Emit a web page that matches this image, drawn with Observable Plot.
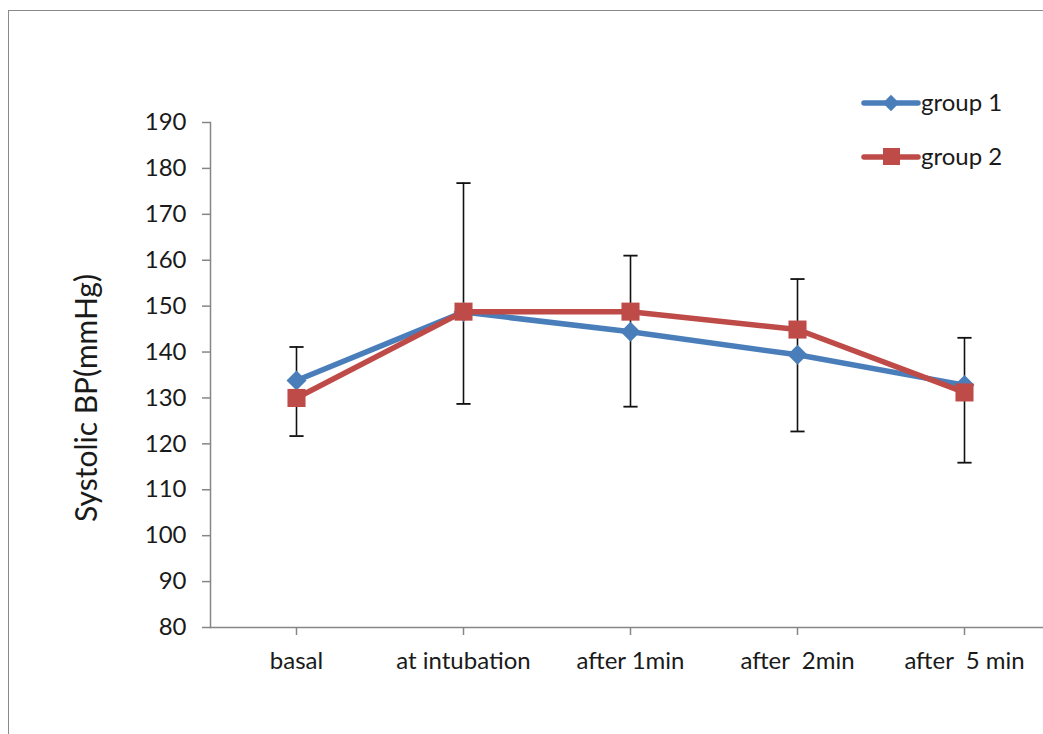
<!DOCTYPE html>
<html>
<head>
<meta charset="utf-8">
<script src="https://cdn.jsdelivr.net/npm/d3@7"></script>
<script src="https://cdn.jsdelivr.net/npm/@observablehq/plot@0.6"></script>
<style>
  html, body { margin: 0; padding: 0; background: #fff; overflow: hidden; }
  #wrap { position: relative; width: 1043px; height: 734px; }
  #border { position: absolute; left: 8px; top: 10px; width: 1100px; height: 800px; border: 1.5px solid #8a8a8a; box-sizing: border-box; pointer-events: none; }
  svg text { white-space: pre; }
</style>
</head>
<body>
<div id="wrap"><div id="border"></div></div>
<script>
const categories = ["basal", "at intubation", "after 1min", "after  2min", "after  5 min"];
const group1 = [133.8, 148.7, 144.4, 139.4, 132.8];
const group2 = [130.0, 148.8, 148.8, 144.9, 131.2];
const errHigh = [141.1, 176.8, 161.0, 155.9, 143.1];
const errLow = [121.7, 128.7, 128.1, 122.7, 115.9];
const yTicks = [80, 90, 100, 110, 120, 130, 140, 150, 160, 170, 180, 190];
const seriesNames = ["group 1", "group 2"];

const rows1 = categories.map((c, i) => ({cat: c, v: group1[i]}));
const rows2 = categories.map((c, i) => ({cat: c, v: group2[i]}));
const errs = categories.map((c, i) => ({cat: c, lo: errLow[i], hi: errHigh[i]}));

const blue = "#4a7ebb";
const red = "#be4b48";
const font = "Lato, 'Open Sans', sans-serif";

const capSymbol = {
  draw(context, size) {
    const w = Math.sqrt(size) / 2;
    context.moveTo(-w, 0);
    context.lineTo(w, 0);
  }
};

const chart = Plot.plot({
  width: 1043,
  height: 734,
  marginLeft: 210,
  marginRight: 0,
  marginTop: 122,
  marginBottom: 107,
  style: {fontFamily: font, fontSize: "24px", color: "#1a1a1a", background: "transparent"},
  x: {type: "point", domain: categories, range: [294.5, 965.2], padding: 0},
  y: {domain: [80, 190]},
  marks: [
    Plot.frame({anchor: "left", stroke: "#868686", strokeWidth: 1.5}),
    Plot.ruleY([80], {stroke: "#868686", strokeWidth: 1.5}),
    Plot.axisY({ticks: yTicks, tickSize: 8, tickPadding: 16, stroke: "#868686", strokeWidth: 1.5, label: null, tickFormat: d => String(d), fill: "#1a1a1a"}),
    Plot.axisX({tickSize: 8, tickPadding: 16, stroke: "#868686", strokeWidth: 1.5, label: null, fill: "#1a1a1a"}),
    Plot.ruleX(errs, {x: "cat", y1: "lo", y2: "hi", stroke: "#111", strokeWidth: 1.6}),
    Plot.dot(errs, {x: "cat", y: "lo", symbol: capSymbol, r: 8, stroke: "#111", strokeWidth: 1.8, fill: "none"}),
    Plot.dot(errs, {x: "cat", y: "hi", symbol: capSymbol, r: 8, stroke: "#111", strokeWidth: 1.8, fill: "none"}),
    Plot.line(rows1, {x: "cat", y: "v", stroke: blue, strokeWidth: 5.5}),
    Plot.dot(rows1, {x: "cat", y: "v", symbol: "diamond2", r: 9, fill: blue, stroke: "none"}),
    Plot.line(rows2, {x: "cat", y: "v", stroke: red, strokeWidth: 5.5}),
    Plot.dot(rows2, {x: "cat", y: "v", symbol: "square2", r: 11.5, fill: red, stroke: "none"}),
    Plot.text(["Systolic BP(mmHg)"], {frameAnchor: "left", textAnchor: "middle", dx: -123, dy: 23, rotate: -90, fontSize: 30, fill: "#1a1a1a"})
  ]
});

// legend
const svg = d3.select(chart);
const leg = svg.append("g").attr("font-family", font).attr("font-size", 24).attr("fill", "#1a1a1a").attr("text-anchor", "start");
const legItems = [
  {name: seriesNames[0], color: blue, y: 103, sym: "diamond"},
  {name: seriesNames[1], color: red, y: 157, sym: "square"}
];
legItems.forEach(it => {
  leg.append("line").attr("x1", 864).attr("x2", 918).attr("y1", it.y).attr("y2", it.y)
    .attr("stroke", it.color).attr("stroke-width", 5.5).attr("stroke-linecap", "round");
  if (it.sym === "diamond") {
    leg.append("path").attr("d", d3.symbol(d3.symbolDiamond2, 170)()).attr("transform", `translate(891,${it.y})`).attr("fill", it.color);
  } else {
    leg.append("rect").attr("x", 883).attr("y", it.y - 9).attr("width", 17).attr("height", 17).attr("fill", it.color);
  }
  leg.append("text").attr("x", 921).attr("y", it.y).attr("dy", "0.35em").text(it.name);
});

document.getElementById("wrap").appendChild(chart);
chart.style.position = "absolute";
chart.style.left = "0";
chart.style.top = "0";
</script>
</body>
</html>
